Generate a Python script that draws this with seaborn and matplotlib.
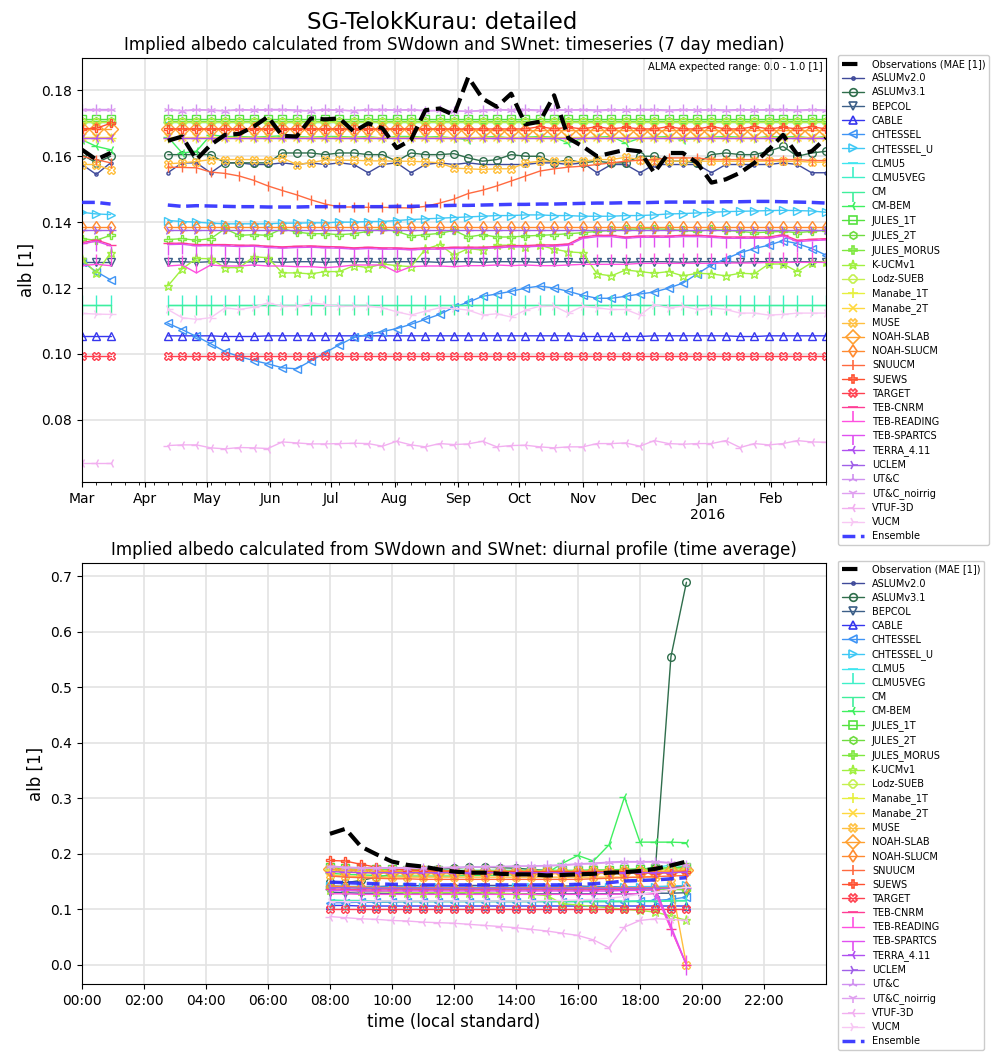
import numpy as np
import pandas as pd
import matplotlib
matplotlib.use("Agg")
import matplotlib.pyplot as plt
import matplotlib.dates as mdates
from matplotlib.lines import Line2D
from matplotlib.ticker import FuncFormatter
import seaborn as sns

nan = np.nan

# ---- time axes ----
week_dates = pd.date_range("2015-03-01", "2016-02-28", freq="7D")  # 53 weekly medians
hours = [8.0, 8.5, 9.0, 9.5, 10.0, 10.5, 11.0, 11.5, 12.0, 12.5, 13.0, 13.5,
         14.0, 14.5, 15.0, 15.5, 16.0, 16.5, 17.0, 17.5, 18.0, 18.5, 19.0, 19.5]

# ---- timeseries (7 day median), gap Mar 22 - Apr 5 ----
ts_obs = [.162, .159, .161, nan, nan, nan,
          .1647, .1660, .1590, .1635, .1665, .1668, .1690, .1720, .1662, .1660,
          .1715, .1712, .1715, .1675, .1700, .1685, .1625, .1650, .1740, .1745,
          .1725, .1840, .1775, .1750, .1790, .1697, .1705, .1785, .1655, .1630,
          .1600, .1610, .1620, .1615, .1550, .1610, .1610, .1580, .1520, .1530,
          .1550, .1580, .1620, .1665, .1605, .1615, .1655]
ts_ens = [.1460, .1460, .1455, nan, nan, nan,
          .1452, .1448, .1450, .1449, .1448, .1447, .1447, .1446, .1446, .1446,
          .1447, .1447, .1447, .1447, .1447, .1447, .1448, .1448, .1449, .1450,
          .1451, .1451, .1452, .1453, .1454, .1454, .1455, .1455, .1456, .1457,
          .1458, .1458, .1459, .1459, .1460, .1461, .1461, .1461, .1461, .1462,
          .1462, .1463, .1463, .1462, .1461, .1460, .1458]

ts_aslumv20 = [.1575, .1545, .1580, nan, nan, nan,
               .1550, .1580, .1580, .1550, .1580, .1580, .1575, .1575, .1580, .1575,
               .1580, .1575, .1580, .1575, .1550, .1575, .1580, .1550, .1575, .1580,
               .1575, .1580, .1575, .1575, .1575, .1575, .1580, .1580, .1575, .1580,
               .1550, .1575, .1575, .1550, .1575, .1575, .1575, .1575, .1550, .1575,
               .1575, .1575, .1575, .1580, .1575, .1550, .1550]
ts_aslumv31 = [.1605, .1580, .1600, nan, nan, nan,
               .1605, .1605, .1605, .1605, .1580, .1580, .1580, .1580, .1610, .1610,
               .1610, .1605, .1610, .1610, .1605, .1605, .1585, .1610, .1605, .1605,
               .1608, .1595, .1585, .1590, .1605, .1600, .1600, .1580, .1590, .1580,
               .1585, .1580, .1580, .1600, .1600, .1585, .1585, .1580, .1605, .1610,
               .1605, .1605, .1615, .1630, .1600, .1610, .1615]
ts_bepcol = [.1280, .1280, .1280, nan, nan, nan,
             .1280, .1280, .1278, .1280, .1280, .1278, .1280, .1280, .1278, .1280,
             .1280, .1278, .1280, .1280, .1280, .1278, .1280, .1280, .1280, .1278,
             .1280, .1280, .1278, .1280, .1280, .1280, .1278, .1280, .1280, .1278,
             .1280, .1280, .1278, .1280, .1280, .1280, .1278, .1280, .1280, .1280,
             .1278, .1280, .1280, .1278, .1280, .1280, .1280]
ts_cable = [.1055, .1055, .1055, nan, nan, nan,
            .1055, .1055, .1055, .1055, .1053, .1053, .1053, .1055, .1055, .1055,
            .1055, .1055, .1055, .1055, .1055, .1055, .1055, .1055, .1055, .1055,
            .1055, .1055, .1055, .1055, .1055, .1055, .1055, .1055, .1055, .1053,
            .1053, .1053, .1053, .1053, .1055, .1055, .1055, .1055, .1055, .1055,
            .1053, .1053, .1055, .1055, .1055, .1055, .1055]
ts_chtessel = [.1280, .1250, .1225, nan, nan, nan,
               .1093, .1074, .1053, .1031, .1007, .0992, .0980, .0970, .0958, .0955,
               .0979, .1004, .1028, .1050, .1059, .1068, .1077, .1090, .1105, .1120,
               .1142, .1157, .1175, .1182, .1190, .1200, .1206, .1200, .1190, .1178,
               .1169, .1169, .1175, .1182, .1188, .1200, .1215, .1243, .1270, .1289,
               .1307, .1320, .1330, .1344, .1335, .1320, .1300]
ts_chtessel_u = [.1430, .1425, .1423, nan, nan, nan,
                 .1405, .1402, .1400, .1397, .1395, .1395, .1395, .1395, .1397, .1397,
                 .1398, .1398, .1400, .1400, .1402, .1402, .1405, .1408, .1410, .1412,
                 .1414, .1416, .1418, .1420, .1420, .1422, .1422, .1420, .1420, .1418,
                 .1418, .1418, .1420, .1420, .1422, .1425, .1426, .1428, .1430, .1432,
                 .1433, .1434, .1435, .1436, .1435, .1434, .1430]
ts_clmu5 = [.1705, .1705, .1705, nan, nan, nan,
            .1705, .1705, .1705, .1705, .1705, .1705, .1705, .1705, .1705, .1705,
            .1705, .1705, .1705, .1705, .1705, .1705, .1705, .1705, .1705, .1705,
            .1705, .1705, .1705, .1705, .1705, .1705, .1705, .1705, .1705, .1705,
            .1705, .1705, .1705, .1705, .1705, .1705, .1705, .1705, .1705, .1705,
            .1705, .1705, .1705, .1705, .1705, .1705, .1705]
ts_clmu5veg = [.1150, .1150, .1150, nan, nan, nan,
               .1150, .1150, .1150, .1150, .1150, .1150, .1150, .1150, .1150, .1150,
               .1150, .1150, .1150, .1150, .1150, .1150, .1150, .1150, .1150, .1150,
               .1150, .1150, .1150, .1150, .1150, .1150, .1150, .1150, .1150, .1150,
               .1150, .1150, .1150, .1150, .1150, .1150, .1150, .1150, .1150, .1150,
               .1150, .1150, .1150, .1150, .1150, .1150, .1150]
ts_cm = [.1148, .1148, .1148, nan, nan, nan,
         .1148, .1148, .1148, .1148, .1148, .1148, .1148, .1148, .1148, .1148,
         .1148, .1148, .1148, .1148, .1148, .1148, .1148, .1148, .1148, .1148,
         .1148, .1148, .1148, .1148, .1148, .1148, .1148, .1148, .1148, .1148,
         .1148, .1148, .1148, .1148, .1148, .1148, .1148, .1148, .1148, .1148,
         .1148, .1148, .1148, .1148, .1148, .1148, .1148]
ts_cm_bem = [.1650, .1630, .1620, nan, nan, nan,
             .1659, .1610, .1615, .1665, .1660, .1660, .1658, .1660, .1662, .1660,
             .1658, .1660, .1660, .1658, .1660, .1655, .1660, .1660, .1658, .1660,
             .1655, .1650, .1658, .1660, .1655, .1658, .1660, .1658, .1640, .1655,
             .1658, .1660, .1640, .1655, .1658, .1660, .1650, .1655, .1658, .1660,
             .1658, .1655, .1660, .1658, .1660, .1655, .1660]
ts_jules_1t = [.1712, .1712, .1712, nan, nan, nan,
               .1712, .1712, .1712, .1712, .1712, .1712, .1712, .1712, .1712, .1712,
               .1712, .1712, .1712, .1712, .1712, .1712, .1712, .1712, .1712, .1712,
               .1712, .1712, .1712, .1712, .1712, .1712, .1712, .1712, .1712, .1712,
               .1712, .1712, .1712, .1712, .1712, .1712, .1712, .1712, .1712, .1712,
               .1712, .1712, .1712, .1712, .1712, .1712, .1712]
ts_jules_2t = [.1708, .1708, .1708, nan, nan, nan,
               .1708, .1708, .1708, .1708, .1708, .1708, .1708, .1708, .1708, .1708,
               .1708, .1708, .1708, .1708, .1708, .1708, .1708, .1708, .1708, .1708,
               .1708, .1708, .1708, .1708, .1708, .1708, .1708, .1708, .1708, .1708,
               .1708, .1708, .1708, .1708, .1708, .1708, .1708, .1708, .1708, .1708,
               .1708, .1708, .1708, .1708, .1708, .1708, .1708]
ts_jules_morus = [.1350, .1345, .1360, nan, nan, nan,
                  .1347, .1350, .1345, .1350, .1380, .1360, .1362, .1360, .1380, .1370,
                  .1365, .1365, .1362, .1365, .1372, .1380, .1372, .1358, .1362, .1366,
                  .1375, .1355, .1362, .1355, .1355, .1358, .1360, .1362, .1365, .1368,
                  .1372, .1375, .1378, .1380, .1380, .1378, .1375, .1372, .1378, .1375,
                  .1372, .1368, .1370, .1372, .1368, .1372, .1375]
ts_kucm = [.1289, .1245, .1307, nan, nan, nan,
           .1206, .1258, .1290, .1289, .1262, .1262, .1295, .1292, .1246, .1246,
           .1243, .1250, .1250, .1268, .1262, .1273, .1268, .1265, .1318, .1332,
           .1300, .1320, .1315, .1330, .1330, .1325, .1330, .1318, .1310, .1307,
           .1243, .1237, .1255, .1250, .1245, .1250, .1237, .1245, .1243, .1237,
           .1245, .1243, .1273, .1273, .1250, .1277, .1280]
ts_lodz = [.1703, .1703, .1703, nan, nan, nan,
           .1703, .1703, .1703, .1703, .1703, .1703, .1703, .1703, .1703, .1703,
           .1703, .1703, .1703, .1703, .1703, .1703, .1703, .1703, .1703, .1703,
           .1703, .1703, .1703, .1703, .1703, .1703, .1703, .1703, .1703, .1703,
           .1703, .1703, .1703, .1703, .1703, .1703, .1703, .1703, .1703, .1703,
           .1703, .1703, .1703, .1703, .1703, .1703, .1703]
ts_manabe_1t = [.1655, .1655, .1655, nan, nan, nan,
                .1655, .1655, .1655, .1655, .1655, .1655, .1655, .1655, .1655, .1655,
                .1655, .1655, .1655, .1655, .1655, .1655, .1655, .1655, .1655, .1655,
                .1655, .1655, .1655, .1655, .1655, .1655, .1655, .1655, .1655, .1655,
                .1655, .1655, .1655, .1655, .1655, .1655, .1655, .1655, .1655, .1655,
                .1655, .1655, .1655, .1655, .1655, .1655, .1655]
ts_manabe_2t = [.1658, .1658, .1658, nan, nan, nan,
                .1658, .1658, .1658, .1658, .1658, .1658, .1658, .1658, .1658, .1658,
                .1658, .1658, .1658, .1658, .1658, .1658, .1658, .1658, .1658, .1658,
                .1658, .1658, .1658, .1658, .1658, .1658, .1658, .1658, .1658, .1658,
                .1658, .1658, .1658, .1658, .1658, .1658, .1658, .1658, .1658, .1658,
                .1658, .1658, .1658, .1658, .1658, .1658, .1658]
ts_muse = [.1575, .1575, .1558, nan, nan, nan,
           .1577, .1580, .1584, .1590, .1590, .1590, .1590, .1590, .1595, .1575,
           .1580, .1589, .1588, .1588, .1586, .1586, .1585, .1585, .1583, .1580,
           .1564, .1562, .1560, .1562, .1562, .1580, .1585, .1585, .1582, .1585,
           .1590, .1590, .1597, .1590, .1585, .1585, .1585, .1585, .1585, .1585,
           .1585, .1585, .1585, .1585, .1585, .1582, .1582]
ts_noah_slab = [.1682, .1682, .1682, nan, nan, nan,
                .1682, .1682, .1682, .1682, .1682, .1682, .1682, .1682, .1682, .1682,
                .1682, .1682, .1682, .1682, .1682, .1682, .1682, .1682, .1682, .1682,
                .1680, .1680, .1678, .1678, .1678, .1678, .1678, .1678, .1678, .1678,
                .1678, .1678, .1678, .1678, .1678, .1678, .1678, .1678, .1678, .1678,
                .1678, .1678, .1678, .1678, .1678, .1678, .1678]
ts_noah_slucm = [.1385, .1385, .1385, nan, nan, nan,
                 .1385, .1385, .1385, .1385, .1385, .1385, .1385, .1385, .1385, .1385,
                 .1385, .1385, .1385, .1385, .1385, .1385, .1385, .1385, .1385, .1385,
                 .1385, .1385, .1385, .1385, .1385, .1385, .1385, .1385, .1385, .1385,
                 .1385, .1385, .1385, .1385, .1385, .1385, .1385, .1385, .1385, .1385,
                 .1385, .1385, .1385, .1385, .1385, .1385, .1385]
ts_snuucm = [.1600, .1590, .1580, nan, nan, nan,
             .1567, .1566, .1565, .1552, .1548, .1540, .1527, .1510, .1496, .1483,
             .1468, .1455, .1446, .1446, .1445, .1445, .1444, .1443, .1448, .1458,
             .1470, .1487, .1497, .1510, .1525, .1540, .1555, .1562, .1567, .1570,
             .1575, .1580, .1585, .1588, .1590, .1595, .1595, .1595, .1590, .1590,
             .1590, .1590, .1588, .1590, .1590, .1587, .1587]
ts_suews = [.1683, .1685, .1700, nan, nan, nan,
            .1683, .1683, .1683, .1683, .1683, .1683, .1683, .1683, .1683, .1683,
            .1683, .1683, .1683, .1683, .1683, .1683, .1683, .1683, .1683, .1683,
            .1683, .1683, .1683, .1683, .1683, .1683, .1690, .1683, .1688, .1683,
            .1690, .1683, .1688, .1683, .1683, .1690, .1683, .1683, .1690, .1683,
            .1683, .1690, .1683, .1688, .1683, .1690, .1683]
ts_target = [.0995, .0995, .0995, nan, nan, nan,
             .0995, .0995, .0995, .0995, .0995, .0995, .0995, .0995, .0995, .0995,
             .0995, .0995, .0995, .0995, .0995, .0995, .0995, .0995, .0995, .0995,
             .0995, .0995, .0995, .0995, .0995, .0995, .0995, .0995, .0995, .0995,
             .0995, .0995, .0995, .0995, .0995, .0995, .0995, .0995, .0995, .0995,
             .0995, .0995, .0995, .0995, .0995, .0995, .0995]
ts_teb_cnrm = [.1338, .1346, .1332, nan, nan, nan,
               .1336, .1336, .1332, .1332, .1332, .1330, .1330, .1327, .1325, .1327,
               .1328, .1326, .1325, .1322, .1324, .1322, .1322, .1320, .1322, .1322,
               .1324, .1324, .1324, .1326, .1329, .1329, .1331, .1331, .1334, .1355,
               .1360, .1360, .1355, .1358, .1358, .1358, .1360, .1360, .1358, .1355,
               .1355, .1355, .1355, .1362, .1345, .1348, .1350]
ts_teb_reading = [.1268, .1272, .1268, nan, nan, nan,
                  .1267, .1270, .1246, .1270, .1267, .1267, .1270, .1267, .1267, .1265,
                  .1265, .1262, .1265, .1270, .1270, .1270, .1248, .1265, .1267, .1267,
                  .1265, .1268, .1268, .1270, .1268, .1270, .1268, .1268, .1270, .1272,
                  .1272, .1272, .1272, .1275, .1275, .1275, .1275, .1275, .1275, .1276,
                  .1276, .1276, .1278, .1278, .1278, .1278, .1278]
ts_teb_spartcs = [.1334, .1342, .1328, nan, nan, nan,
                  .1332, .1333, .1328, .1329, .1328, .1326, .1327, .1323, .1321, .1323,
                  .1324, .1322, .1321, .1318, .1320, .1318, .1318, .1316, .1318, .1318,
                  .1320, .1320, .1320, .1322, .1325, .1325, .1327, .1327, .1330, .1351,
                  .1356, .1356, .1351, .1354, .1354, .1354, .1356, .1356, .1354, .1351,
                  .1351, .1351, .1351, .1358, .1341, .1344, .1346]
ts_terra = [.1655, .1655, .1655, nan, nan, nan,
            .1655, .1655, .1655, .1655, .1655, .1655, .1655, .1655, .1655, .1655,
            .1655, .1655, .1655, .1655, .1655, .1655, .1655, .1655, .1655, .1655,
            .1655, .1655, .1655, .1655, .1655, .1655, .1655, .1655, .1655, .1655,
            .1655, .1655, .1655, .1655, .1655, .1655, .1655, .1655, .1655, .1655,
            .1655, .1655, .1655, .1655, .1655, .1655, .1655]
ts_uclem = [.1375, .1375, .1375, nan, nan, nan,
            .1375, .1375, .1375, .1375, .1375, .1375, .1375, .1375, .1375, .1375,
            .1375, .1375, .1375, .1375, .1375, .1375, .1375, .1375, .1375, .1375,
            .1375, .1375, .1375, .1375, .1375, .1375, .1375, .1375, .1375, .1375,
            .1375, .1375, .1375, .1375, .1375, .1375, .1375, .1375, .1375, .1375,
            .1375, .1375, .1375, .1375, .1375, .1375, .1375]
ts_utc = [.1742, .1742, .1742, nan, nan, nan,
          .1742, .1738, .1742, .1740, .1738, .1742, .1740, .1742, .1742, .1740,
          .1738, .1742, .1740, .1738, .1742, .1742, .1740, .1742, .1738, .1740,
          .1738, .1736, .1740, .1742, .1740, .1742, .1740, .1742, .1740, .1742,
          .1740, .1742, .1740, .1742, .1742, .1740, .1742, .1740, .1742, .1740,
          .1742, .1740, .1742, .1742, .1740, .1742, .1740]
ts_utc_noirrig = [.1740, .1740, .1740, nan, nan, nan,
                  .1740, .1738, .1740, .1740, .1738, .1740, .1740, .1740, .1740, .1738,
                  .1738, .1740, .1740, .1738, .1740, .1740, .1740, .1740, .1738, .1738,
                  .1738, .1736, .1738, .1740, .1740, .1740, .1738, .1740, .1740, .1740,
                  .1738, .1740, .1740, .1740, .1740, .1738, .1740, .1740, .1740, .1738,
                  .1740, .1740, .1740, .1740, .1738, .1740, .1738]
ts_vtuf = [.0670, .0670, .0670, nan, nan, nan,
           .0722, .0724, .0724, .0715, .0712, .0716, .0715, .0713, .0733, .0730,
           .0727, .0727, .0728, .0729, .0728, .0720, .0735, .0724, .0718, .0728,
           .0725, .0727, .0735, .0718, .0722, .0723, .0718, .0715, .0718, .0718,
           .0728, .0728, .0730, .0720, .0737, .0728, .0726, .0728, .0728, .0737,
           .0716, .0728, .0724, .0728, .0737, .0733, .0732]
ts_vucm = [.1123, .1121, .1120, nan, nan, nan,
           .1135, .1110, .1105, .1110, .1140, .1135, .1142, .1155, .1145, .1145,
           .1155, .1150, .1145, .1145, .1145, .1140, .1128, .1118, .1130, .1140,
           .1138, .1133, .1118, .1122, .1112, .1133, .1145, .1145, .1124, .1145,
           .1140, .1135, .1135, .1118, .1150, .1140, .1145, .1135, .1140, .1135,
           .1124, .1124, .1118, .1120, .1124, .1124, .1124]

# ---- diurnal profile (time average), 08:00 - 19:30 ----
dp_obs = [.236, .245, .213, .199, .186, .180, .177, .172, .168, .166, .166, .164,
          .163, .163, .161, .162, .163, .164, .166, .167, .169, .173, .179, .186]
dp_ens = [.149, .148, .147, .146, .145, .145, .144, .144, .144, .144, .144, .144,
          .144, .144, .144, .144, .145, .146, .148, .151, .152, .153, .155, .157]
dp_aslumv20 = [.142, .141, .141, .141, .142, .142, .143, .143, .143, .143, .143, .143,
               .143, .143, .142, .142, .142, .141, .141, .140, .140, .139, .140, .142]
dp_aslumv31 = [.150, .148, .152, .158, .163, .167, .170, .172, .174, .176, .176, .175,
               .174, .172, .170, .168, .167, .166, .166, .168, .170, .175, .555, .689]
dp_bepcol = [.131, .130, .129, .129, .128, .128, .128, .128, .128, .128, .128, .128,
             .128, .128, .128, .128, .128, .128, .128, .128, .128, .129, .129, .130]
dp_cable = [.107, .107, .106, .106, .106, .106, .106, .106, .106, .106, .106, .106,
            .106, .106, .106, .106, .106, .106, .106, .106, .106, .106, .106, .106]
dp_chtessel = [.112, .112, .113, .113, .113, .114, .114, .114, .114, .114, .114, .114,
               .114, .114, .114, .114, .114, .114, .114, .114, .115, .116, .118, .122]
dp_chtessel_u = [.142, .141, .141, .140, .140, .140, .140, .140, .140, .140, .140, .140,
                 .140, .140, .140, .140, .140, .140, .140, .140, .141, .141, .142, .143]
dp_clmu5 = [.172, .171, .171, .170, .170, .170, .170, .170, .170, .170, .170, .170,
            .170, .170, .170, .170, .170, .170, .170, .171, .172, .175, .180, .176]
dp_clmu5veg = [.117, .116, .116, .115, .115, .115, .115, .115, .115, .115, .115, .115,
               .115, .115, .115, .115, .115, .115, .115, .115, .115, .115, .116, .116]
dp_cm = [.116, .115, .115, .114, .114, .114, .114, .114, .114, .114, .114, .114,
         .114, .114, .114, .114, .114, .114, .114, .114, .114, .114, .115, .115]
dp_cm_bem = [.165, .163, .162, .161, .160, .160, .160, .160, .160, .161, .161, .162,
             .162, .163, .165, .183, .197, .187, .216, .302, .221, .221, .221, .220]
dp_jules_1t = [.176, .175, .174, .173, .172, .171, .171, .170, .170, .170, .170, .170,
               .170, .170, .170, .170, .170, .171, .171, .172, .173, .174, .175, .176]
dp_jules_2t = [.174, .173, .172, .171, .170, .169, .169, .168, .168, .168, .168, .168,
               .168, .168, .168, .168, .168, .169, .169, .170, .171, .172, .173, .174]
dp_jules_morus = [.140, .139, .138, .137, .137, .136, .136, .136, .136, .136, .136, .136,
                  .136, .136, .136, .136, .136, .136, .136, .136, .136, .136, .136, .135]
dp_kucm = [.135, .134, .133, .132, .131, .130, .130, .130, .130, .130, .130, .129,
           .128, .127, .125, .110, .108, .105, .103, .100, .098, .095, .088, .080]
dp_lodz = [.172, .171, .170, .170, .169, .169, .169, .169, .169, .169, .169, .169,
           .169, .169, .169, .169, .169, .169, .169, .170, .170, .171, .172, .173]
dp_manabe_1t = [.170, .168, .167, .166, .166, .165, .165, .165, .165, .165, .165, .165,
                .165, .165, .165, .165, .165, .165, .166, .166, .167, .168, .169, .170]
dp_manabe_2t = [.169, .167, .166, .165, .165, .164, .164, .164, .164, .164, .164, .164,
                .164, .164, .164, .164, .164, .164, .165, .165, .166, .167, .168, .169]
dp_muse = [.162, .160, .159, .158, .158, .158, .158, .158, .158, .158, .158, .158,
           .158, .158, .158, .158, .158, .158, .158, .158, .158, .158, .150, .000]
dp_noah_slab = [.172, .171, .170, .169, .168, .168, .168, .168, .168, .168, .168, .168,
                .168, .168, .168, .168, .168, .168, .168, .168, .168, .168, .169, .170]
dp_noah_slucm = [.142, .141, .140, .139, .139, .139, .139, .139, .139, .139, .139, .139,
                 .139, .139, .139, .139, .139, .139, .139, .139, .139, .139, .139, .140]
dp_snuucm = [.160, .158, .157, .156, .155, .155, .154, .154, .154, .154, .154, .154,
             .154, .154, .154, .154, .154, .155, .156, .157, .158, .159, .160, .161]
dp_suews = [.188, .187, .181, .176, .173, .171, .170, .169, .169, .168, .168, .168,
            .168, .168, .168, .168, .168, .168, .168, .167, .166, .165, .166, .168]
dp_target = [.101, .101, .101, .101, .101, .101, .101, .101, .101, .101, .101, .101,
             .101, .101, .101, .101, .101, .101, .101, .101, .101, .101, .101, .101]
dp_teb_cnrm = [.137, .136, .135, .135, .135, .135, .135, .135, .135, .135, .135, .135,
               .135, .135, .135, .135, .135, .135, .136, .136, .137, .137, .065, .000]
dp_teb_reading = [.128, .128, .127, .127, .127, .127, .127, .127, .127, .127, .127, .127,
                  .127, .127, .127, .127, .127, .127, .127, .128, .128, .128, .065, .000]
dp_teb_spartcs = [.134, .134, .133, .133, .133, .133, .133, .133, .133, .133, .133, .133,
                  .133, .133, .133, .133, .133, .133, .133, .134, .134, .135, .070, .000]
dp_terra = [.168, .167, .166, .166, .166, .166, .166, .166, .166, .166, .166, .166,
            .166, .166, .166, .166, .166, .166, .166, .166, .166, .166, .166, .167]
dp_uclem = [.139, .139, .138, .138, .138, .138, .138, .138, .138, .138, .138, .138,
            .138, .138, .138, .138, .138, .138, .138, .138, .138, .138, .138, .139]
dp_utc = [.178, .176, .175, .175, .175, .175, .175, .175, .176, .176, .177, .177,
          .178, .178, .179, .180, .182, .183, .185, .186, .186, .186, .184, .180]
dp_utc_noirrig = [.177, .175, .174, .174, .174, .174, .174, .175, .175, .176, .176, .177,
                  .177, .178, .178, .179, .181, .182, .184, .185, .185, .185, .183, .179]
dp_vtuf = [.087, .085, .083, .082, .080, .079, .077, .076, .075, .073, .071, .069,
           .067, .064, .061, .057, .053, .045, .031, .068, .080, .083, .082, .080]
dp_vucm = [.114, .114, .114, .115, .115, .115, .115, .115, .115, .115, .115, .115,
           .115, .115, .116, .116, .117, .118, .120, .123, .127, .131, .136, .140]

# ---- model styling ----
models = ["ASLUMv2.0", "ASLUMv3.1", "BEPCOL", "CABLE", "CHTESSEL", "CHTESSEL_U",
          "CLMU5", "CLMU5VEG", "CM", "CM-BEM", "JULES_1T", "JULES_2T", "JULES_MORUS",
          "K-UCMv1", "Lodz-SUEB", "Manabe_1T", "Manabe_2T", "MUSE", "NOAH-SLAB",
          "NOAH-SLUCM", "SNUUCM", "SUEWS", "TARGET", "TEB-CNRM", "TEB-READING",
          "TEB-SPARTCS", "TERRA_4.11", "UCLEM", "UT&C", "UT&C_noirrig", "VTUF-3D", "VUCM"]
colors = ["#3f4a9a", "#2f6e4c", "#3c5f88", "#3636ee", "#3f94f5", "#3fc8f5",
          "#3fe6f0", "#3ff0c8", "#3fef9c", "#3ff060", "#55e23f", "#6fdc3f", "#7ee83f",
          "#a0f03f", "#c4f050", "#e6f03f", "#ffd83f", "#ffc040", "#ffa030",
          "#ff8a30", "#ff6a40", "#ff5030", "#ff4050", "#ff3d95", "#ff50e0",
          "#e050f0", "#b050f0", "#a060e8", "#d090f0", "#e0a0f0", "#f2b0f0", "#f8c8f4"]
markers = [".", "o", "v", "^", "<", ">",
           "_", 2, 3, "3", "s", "h", "P",
           "*", "8", "+", "x", "X", "D",
           "d", "|", "P", "X", "_", 2,
           3, "3", "4", "2", "1", "3", "4"]
msizes = [4.5, 5.5, 5.5, 5.5, 5.5, 5.5,
          7, 7, 7, 7, 5.5, 5.5, 5.5,
          6.5, 5.5, 6.5, 5.5, 5.5, 7,
          6.5, 6.5, 5.5, 5.5, 7, 7,
          7, 7, 7, 7, 7, 7, 7]
ts_series = [ts_aslumv20, ts_aslumv31, ts_bepcol, ts_cable, ts_chtessel, ts_chtessel_u,
             ts_clmu5, ts_clmu5veg, ts_cm, ts_cm_bem, ts_jules_1t, ts_jules_2t, ts_jules_morus,
             ts_kucm, ts_lodz, ts_manabe_1t, ts_manabe_2t, ts_muse, ts_noah_slab,
             ts_noah_slucm, ts_snuucm, ts_suews, ts_target, ts_teb_cnrm, ts_teb_reading,
             ts_teb_spartcs, ts_terra, ts_uclem, ts_utc, ts_utc_noirrig, ts_vtuf, ts_vucm]
dp_series = [dp_aslumv20, dp_aslumv31, dp_bepcol, dp_cable, dp_chtessel, dp_chtessel_u,
             dp_clmu5, dp_clmu5veg, dp_cm, dp_cm_bem, dp_jules_1t, dp_jules_2t, dp_jules_morus,
             dp_kucm, dp_lodz, dp_manabe_1t, dp_manabe_2t, dp_muse, dp_noah_slab,
             dp_noah_slucm, dp_snuucm, dp_suews, dp_target, dp_teb_cnrm, dp_teb_reading,
             dp_teb_spartcs, dp_terra, dp_uclem, dp_utc, dp_utc_noirrig, dp_vtuf, dp_vucm]

sns.set_style("ticks", {"axes.edgecolor": "black", "text.color": "black",
                        "xtick.color": "black", "ytick.color": "black",
                        "axes.labelcolor": "black"})
plt.rcParams["font.family"] = ["DejaVu Sans"]
plt.rcParams["xtick.labelsize"] = 10
plt.rcParams["ytick.labelsize"] = 10

LW = 1.0


def draw(ax, x, y, color, marker, ms, lw=LW, ls="-", alpha=1.0, z=2):
    # segments split at missing weeks so the line breaks at the gap
    d = pd.DataFrame({"x": x, "y": y})
    d["seg"] = d["y"].isna().cumsum()
    d = d.dropna()
    n0 = len(ax.lines)
    sns.lineplot(data=d, x="x", y="y", units="seg", estimator=None, ax=ax,
                 color=color, marker=marker, markersize=ms, linewidth=lw,
                 linestyle=ls, alpha=alpha, zorder=z, legend=False)
    for ln in ax.lines[n0:]:
        ln.set_color(color)
        ln.set_markeredgecolor(color)
        ln.set_markerfacecolor("none")
        ln.set_markeredgewidth(1.0)


def handles():
    hs = [Line2D([], [], color="black", lw=3, ls="--")]
    for c, m, s in zip(colors, markers, msizes):
        hs.append(Line2D([], [], color=c, lw=LW, marker=m, markersize=s,
                         mfc="none", mec=c, mew=1.2))
    hs.append(Line2D([], [], color="#2b2bff", lw=2.5, ls="--", alpha=0.9))
    return hs


fig = plt.figure(figsize=(10.02, 10.59), dpi=100)
ax1 = fig.add_axes([0.0818, 0.5449, 0.7425, 0.4004])
ax2 = fig.add_axes([0.0818, 0.0708, 0.7425, 0.3975])

fig.suptitle("SG-TelokKurau: detailed", x=0.441, y=0.979, va="center", fontsize=16.5)

# ---- top: timeseries ----
draw(ax1, week_dates, ts_obs, "black", "", 0, lw=3, ls="--", z=5)
for c, m, s, v in zip(colors, markers, msizes, ts_series):
    draw(ax1, week_dates, v, c, m, s)
draw(ax1, week_dates, ts_ens, "#2b2bff", "", 0, lw=2.5, ls="--", alpha=0.9, z=4)

ax1.set_xlim(week_dates[0], week_dates[-1])
ax1.xaxis.set_major_locator(mdates.MonthLocator())
ax1.xaxis.set_minor_locator(mdates.WeekdayLocator(byweekday=mdates.SU))
ax1.xaxis.set_major_formatter(FuncFormatter(
    lambda v, p: mdates.num2date(v).strftime("%b") +
    ("\n2016" if mdates.num2date(v).month == 1 else "")))
ax1.set_xlabel("")
ax1.set_ylabel("alb [1]", fontsize=12)
ax1.set_title("Implied albedo calculated from SWdown and SWnet: timeseries (7 day median)",
              fontsize=12)
ax1.grid(True, color="#e3e3e3", linewidth=1.2)
ax1.set_axisbelow(True)
ax1.text(0.995, 0.99, "ALMA expected range: 0.0 - 1.0 [1]", transform=ax1.transAxes,
         ha="right", va="top", fontsize=7.2)
ax1.legend(handles(), ["Observations (MAE [1])"] + models + ["Ensemble"],
           loc="upper left", bbox_to_anchor=(1.016, 1.006), borderaxespad=0,
           fontsize=7, handlelength=2.3, labelspacing=0.42, framealpha=1,
           edgecolor="#cccccc")

# ---- bottom: diurnal profile ----
draw(ax2, hours, dp_obs, "black", "", 0, lw=3, ls="--", z=5)
for c, m, s, v in zip(colors, markers, msizes, dp_series):
    draw(ax2, hours, v, c, m, s)
draw(ax2, hours, dp_ens, "#2b2bff", "", 0, lw=2.5, ls="--", alpha=0.9, z=4)

ax2.set_xlim(0, 24)
ax2.set_xticks(list(range(0, 24, 2)))
ax2.xaxis.set_major_formatter(FuncFormatter(lambda v, p: f"{int(v):02d}:00"))
ax2.set_xlabel("time (local standard)", fontsize=12)
ax2.set_ylabel("alb [1]", fontsize=12)
ax2.set_title("Implied albedo calculated from SWdown and SWnet: diurnal profile (time average)",
              fontsize=12)
ax2.grid(True, color="#e3e3e3", linewidth=1.2)
ax2.set_axisbelow(True)
ax2.legend(handles(), ["Observation (MAE [1])"] + models + ["Ensemble"],
           loc="upper left", bbox_to_anchor=(1.016, 1.006), borderaxespad=0,
           fontsize=7, handlelength=2.3, labelspacing=0.42, framealpha=1,
           edgecolor="#cccccc")

fig.savefig("out.png", dpi=100)
